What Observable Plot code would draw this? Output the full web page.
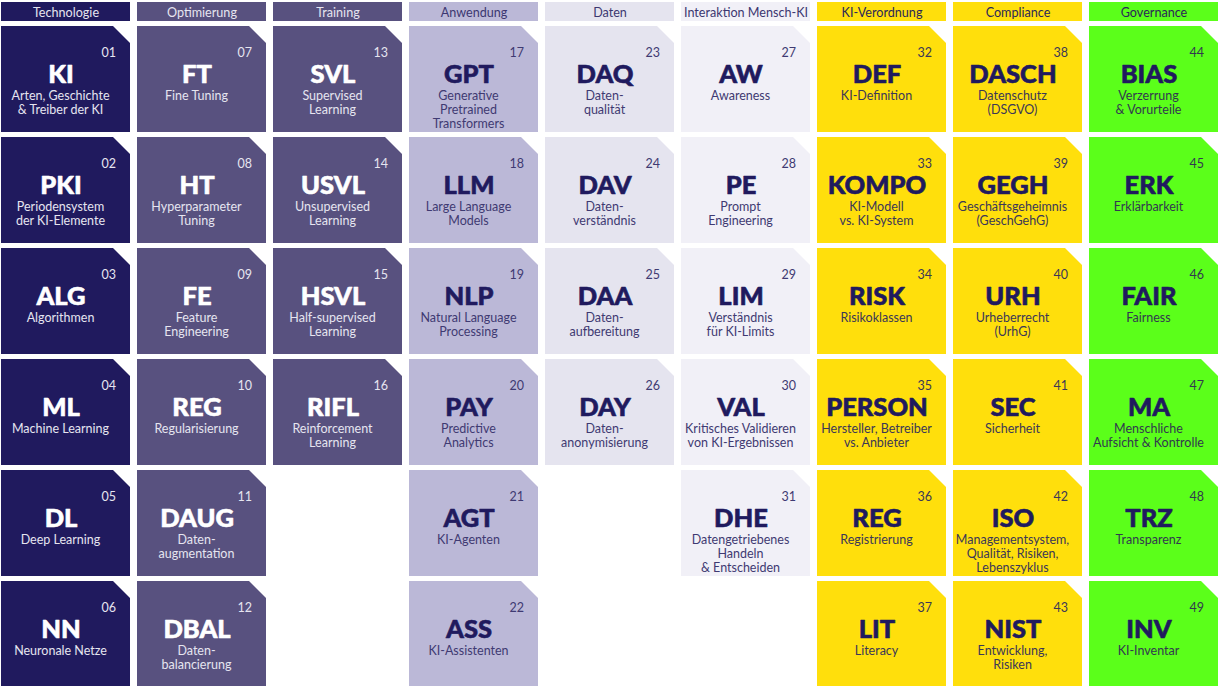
<!DOCTYPE html>
<html><head><meta charset="utf-8">
<style>html,body{margin:0;padding:0;background:#fff;overflow:hidden}svg{display:block}</style>
<script src="https://cdn.jsdelivr.net/npm/d3@7"></script>
<script src="https://cdn.jsdelivr.net/npm/@observablehq/plot@0.6"></script>
</head><body>
<script>
const columns = ["Technologie","Optimierung","Training","Anwendung","Daten","Interaktion Mensch-KI","KI-Verordnung","Compliance","Governance"];
const columnColors = ["#201a5e","#58517f","#58517f","#bbb8d7","#e5e4ef","#f1f0f7","#ffdf0c","#ffdf0c","#5bff1a"];
const headerInk = ["#e6e5f0","#e6e5f0","#e6e5f0","#3c3770","#3c3770","#3c3770","#2b2758","#2b2758","#2b2758"];
const titleInk = ["#ffffff","#ffffff","#ffffff","#201a5e","#201a5e","#201a5e","#201a5e","#201a5e","#201a5e"];
const labelInk = ["#e6e5f0","#e6e5f0","#e6e5f0","#3f3a72","#3f3a72","#3f3a72","#3b3757","#3b3757","#32384f"];
const columnSizes = [6,6,4,6,4,5,6,6,6];
const cardRows = [1,2,3,4,5,6, 1,2,3,4,5,6, 1,2,3,4, 1,2,3,4,5,6, 1,2,3,4, 1,2,3,4,5, 1,2,3,4,5,6, 1,2,3,4,5,6, 1,2,3,4,5,6];
const cardNumbers = ["01","02","03","04","05","06","07","08","09","10","11","12","13","14","15","16","17","18","19","20","21","22","23","24","25","26","27","28","29","30","31","32","33","34","35","36","37","38","39","40","41","42","43","44","45","46","47","48","49"];
const cardCodes = ["KI","PKI","ALG","ML","DL","NN","FT","HT","FE","REG","DAUG","DBAL","SVL","USVL","HSVL","RIFL","GPT","LLM","NLP","PAY","AGT","ASS","DAQ","DAV","DAA","DAY","AW","PE","LIM","VAL","DHE","DEF","KOMPO","RISK","PERSON","REG","LIT","DASCH","GEGH","URH","SEC","ISO","NIST","BIAS","ERK","FAIR","MA","TRZ","INV"];
const cardLabels = [
"Arten, Geschichte\n& Treiber der KI","Periodensystem\nder KI-Elemente","Algorithmen","Machine Learning","Deep Learning","Neuronale Netze",
"Fine Tuning","Hyperparameter\nTuning","Feature\nEngineering","Regularisierung","Daten-\naugmentation","Daten-\nbalancierung",
"Supervised\nLearning","Unsupervised\nLearning","Half-supervised\nLearning","Reinforcement\nLearning",
"Generative\nPretrained\nTransformers","Large Language\nModels","Natural Language\nProcessing","Predictive\nAnalytics","KI-Agenten","KI-Assistenten",
"Daten-\nqualität","Daten-\nverständnis","Daten-\naufbereitung","Daten-\nanonymisierung",
"Awareness","Prompt\nEngineering","Verständnis\nfür KI-Limits","Kritisches Validieren\nvon KI-Ergebnissen","Datengetriebenes\nHandeln\n& Entscheiden",
"KI-Definition","KI-Modell\nvs. KI-System","Risikoklassen","Hersteller, Betreiber\nvs. Anbieter","Registrierung","Literacy",
"Datenschutz\n(DSGVO)","Geschäftsgeheimnis\n(GeschGehG)","Urheberrecht\n(UrhG)","Sicherheit","Managementsystem,\nQualität, Risiken,\nLebenszyklus","Entwicklung,\nRisiken",
"Verzerrung\n& Vorurteile","Erklärbarkeit","Fairness","Menschliche\nAufsicht & Kontrolle","Transparenz","KI-Inventar"];

const cardColumnIdx = columnSizes.flatMap((n,i)=>d3.range(n).map(()=>i));
const cards = cardCodes.map((code,i)=>({code,label:cardLabels[i],number:cardNumbers[i],row:cardRows[i],column:columns[cardColumnIdx[i]],ci:cardColumnIdx[i]}));
const headers = columns.map((column,ci)=>({column,ci,row:0}));
const font = "Lato, 'Noto Sans', sans-serif";

// Replaces each cell rectangle with a polygon whose top-right corner is cut off.
function cutCorner(I,s,v,d,c,next){
  const g = next(I,s,v,d,c);
  g.querySelectorAll("rect").forEach(r=>{
    const x=+r.getAttribute("x"),y=+r.getAttribute("y"),w=+r.getAttribute("width"),h=+r.getAttribute("height");
    const p=document.createElementNS("http://www.w3.org/2000/svg","polygon");
    p.setAttribute("points",[[x,y],[x+w-17,y],[x+w,y+17],[x+w,y+h],[x,y+h]].join(" "));
    for(const a of r.attributes) if(!["x","y","width","height"].includes(a.name)) p.setAttribute(a.name,a.value);
    r.replaceWith(p);
  });
  return g;
}

const chart = Plot.plot({
  width:1220,height:686,margin:0,
  style:{fontFamily:font,background:"#fff"},
  x:{type:"band",domain:columns,range:[0,1218.6],paddingInner:0.05,paddingOuter:0,axis:null},
  y:{type:"band",domain:[0,1,2,3,4,5,6],range:[-85,687],paddingInner:5/111,paddingOuter:0,axis:null},
  color:{type:"ordinal",domain:columns,range:columnColors},
  marks:[
    Plot.cell(headers,{x:"column",y:"row",fill:"column",insetTop:87}),
    Plot.text(headers,{x:"column",y:"row",text:"column",dy:44,fontSize:12.6,fill:d=>headerInk[d.ci]}),
    Plot.cell(cards,{x:"column",y:"row",fill:"column",render:cutCorner}),
    Plot.text(cards,{x:"column",y:"row",text:"number",dx:50,dy:-27,textAnchor:"end",fontSize:12.5,fill:d=>labelInk[d.ci]}),
    Plot.text(cards,{x:"column",y:"row",text:"code",dx:-5,dy:-5,fontSize:25.5,fontWeight:900,stroke:d=>titleInk[d.ci],strokeWidth:0.6,fill:d=>titleInk[d.ci]}),
    Plot.text(cards,{x:"column",y:"row",text:"label",dx:-5.5,dy:10,lineAnchor:"top",lineHeight:1.145,fontSize:12.5,fill:d=>labelInk[d.ci]})
  ]
});
document.body.appendChild(chart);
</script>
</body></html>
